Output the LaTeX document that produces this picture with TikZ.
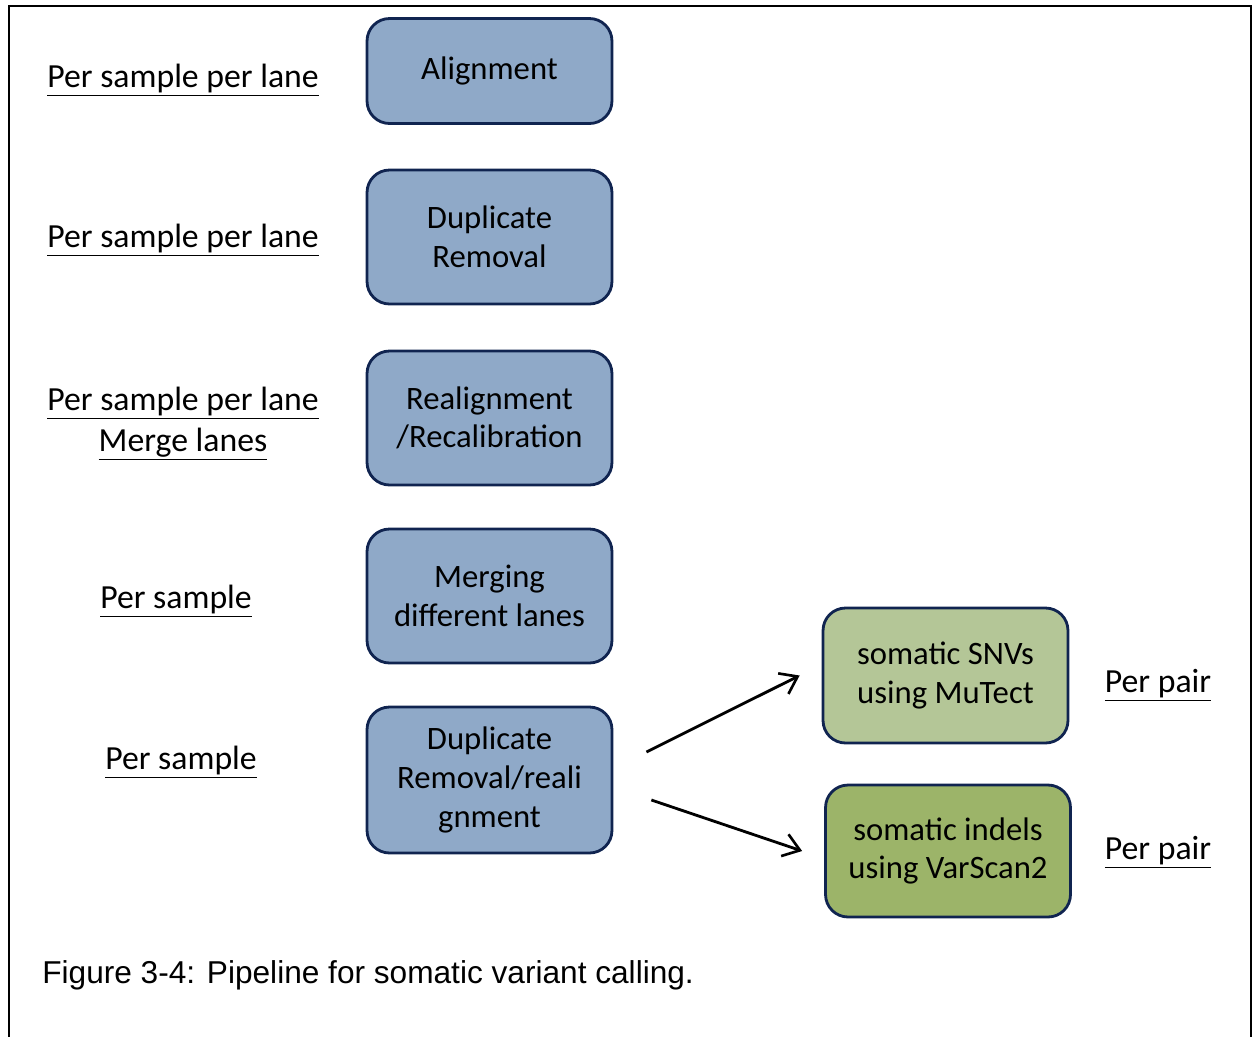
\documentclass[tikz,border=0pt]{standalone}
\usepackage{fontspec}
\setmainfont{Carlito}
\newfontfamily\capfont{Liberation Sans}
\usetikzlibrary{arrows.meta,positioning,calc}
\definecolor{pblue}{RGB}{143,169,200}
\definecolor{pnavy}{RGB}{16,36,80}
\definecolor{pgreenA}{RGB}{180,198,151}
\definecolor{pgreenB}{RGB}{156,180,105}

\begin{document}
\begin{tikzpicture}[
    x=0.02cm, y=-0.02cm,
    stepbox/.style={draw=pnavy, line width=1.6pt, rounded corners=0.45cm,
                fill=pblue, minimum width=4.9cm, align=center, inner sep=0pt,
                font=\fontsize{18.6}{22}\selectfont},
    lbl/.style={align=center, font=\fontsize{19.2}{23.3}\selectfont},
    arr/.style={-{Straight Barb[length=3.2mm,width=4.6mm,line width=1.5pt]}, line width=1.6pt}
]
\useasboundingbox (0,0) rectangle (1257,1036);

% Frame
\draw[line width=0.8pt] (9,1040) -- (9,6) -- (1251,6) -- (1251,1040);

% Per-sample pipeline
\node[stepbox, minimum height=2.1cm] (align) at (489.5,71) {Alignment};
\node[stepbox, minimum height=2.68cm] (dedup) at (489.5,237) {Duplicate\\Removal};
\node[stepbox, minimum height=2.68cm] (recal) at (489.5,418) {Realignment\\/Recalibration};
\node[stepbox, minimum height=2.68cm] (merge) at (489.5,596) {Merging\\different lanes};
\node[stepbox, minimum height=2.92cm] (realign) at (489.5,780) {Duplicate\\Removal/reali\\gnment};

% Per-pair calling
\node[stepbox, fill=pgreenA, minimum height=2.7cm] (snv) at (945.5,675.5) {somatic SNVs\\using MuTect};
\node[stepbox, fill=pgreenB, minimum height=2.64cm] (indel) at (948,851) {somatic indels\\using VarScan2};

\draw[arr] ([shift={(33,-28)}]realign.east) -- ([xshift=-0.44cm]snv.west);
\draw[arr] ([shift={(38,20)}]realign.east) -- ([xshift=-0.44cm]indel.west);

% Granularity labels
\node[lbl] (l1) at (183,80) {\underline{Per sample per lane}};
\node[lbl] (l2) at (183,240) {\underline{Per sample per lane}};
\node[lbl] (l3) at (183,424) {\underline{Per sample per lane}\\\underline{Merge lanes}};
\node[lbl] (l4) at (176,601) {\underline{Per sample}};
\node[lbl] (l5) at (181,762) {\underline{Per sample}};
\node[lbl] (l6) at (1158,685) {\underline{Per pair}};
\node[lbl] (l7) at (1158,852) {\underline{Per pair}};

% Caption
\node[anchor=west, inner sep=0pt, font=\capfont\fontsize{18}{21}\selectfont] (cap) at (42,975)
    {Figure 3-4: Pipeline for somatic variant calling.};

\end{tikzpicture}
\end{document}
